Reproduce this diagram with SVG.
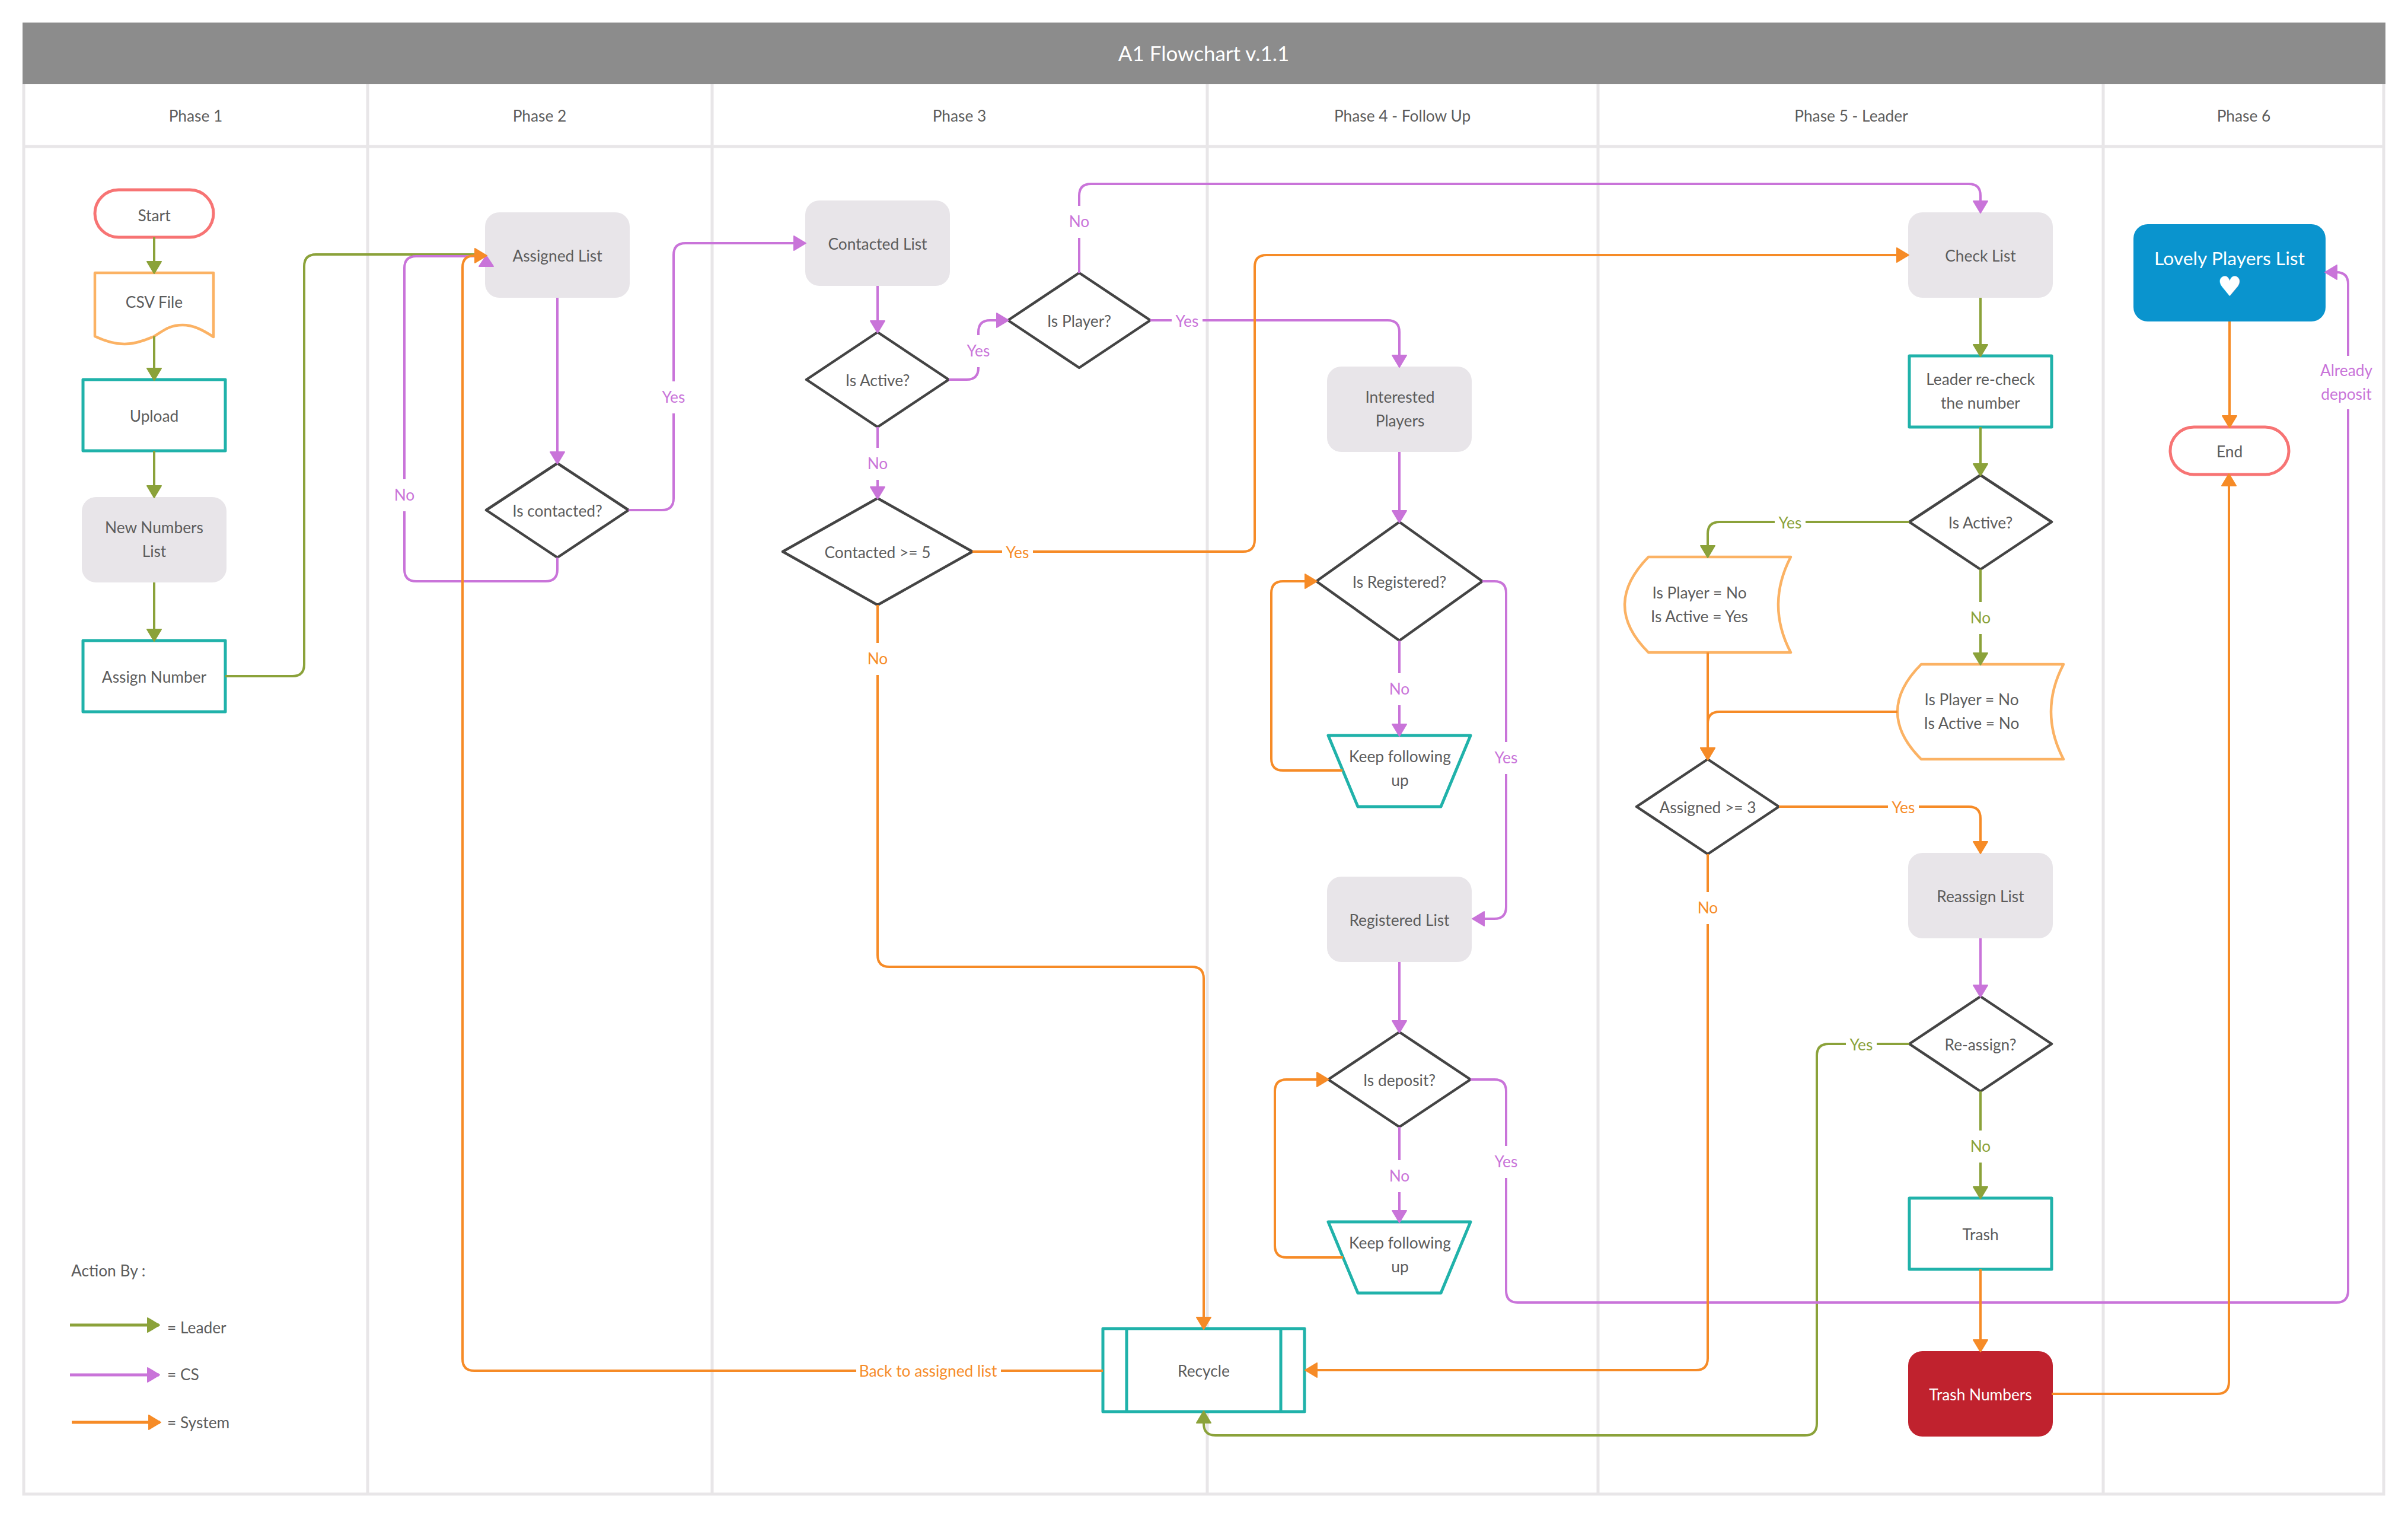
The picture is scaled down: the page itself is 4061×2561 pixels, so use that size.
<svg xmlns="http://www.w3.org/2000/svg" width="4061" height="2561" viewBox="0 0 4061 2561">
<style>
text{font-family:Lato,"Noto Sans","Liberation Sans",sans-serif;font-size:26.3px;fill:#5c5c5c;text-anchor:middle;transform:translateY(-1px)}
.frame{fill:none;stroke:#e8e6e8;stroke-width:5}
.c{fill:none;stroke-width:4;stroke-linejoin:round}
.g{stroke:#8ba23a}.p{stroke:#c974d9}.o{stroke:#f68b27}
.bg{fill:#fff}
.list{fill:#e8e5e9}
.proc{fill:#fff;stroke:#20b2aa;stroke-width:5;stroke-linejoin:round}
.dec{fill:#fff;stroke:#444;stroke-width:4.5;stroke-linejoin:round}
.doc{fill:#fff;stroke:#fbb264;stroke-width:4.5;stroke-linejoin:round}
.term{fill:#fff;stroke:#f77474;stroke-width:5}
text.w{fill:#fff}
.tp{fill:#c974d9}.to{fill:#f68b27}.tg{fill:#8ba23a}
text.tp{fill:#c974d9}text.to{fill:#f68b27}text.tg{fill:#8ba23a}
text.s{text-anchor:start}
.ms{stroke-width:2;stroke-linejoin:round}
.nm{marker-end:none}
</style>
<defs>
<marker id="ag" markerUnits="userSpaceOnUse" markerWidth="30" markerHeight="32" viewBox="0 0 30 32" refX="25" refY="16" orient="auto"><path d="M6 4L26 16L6 28Z" fill="#8ba23a" stroke="#8ba23a" class="ms"/></marker>
<marker id="ap" markerUnits="userSpaceOnUse" markerWidth="30" markerHeight="32" viewBox="0 0 30 32" refX="25" refY="16" orient="auto"><path d="M6 4L26 16L6 28Z" fill="#c974d9" stroke="#c974d9" class="ms"/></marker>
<marker id="ao" markerUnits="userSpaceOnUse" markerWidth="30" markerHeight="32" viewBox="0 0 30 32" refX="25" refY="16" orient="auto"><path d="M6 4L26 16L6 28Z" fill="#f68b27" stroke="#f68b27" class="ms"/></marker>
</defs>
<rect width="4061" height="2561" fill="#fff"/>
<g id="frame">
<path class="frame" d="M40 141V2519H4020V141M40 247H4020M620 141V2519M1201 141V2519M2036 141V2519M2695 141V2519M3547 141V2519"/>
<rect x="38" y="38" width="3985" height="104" fill="#8c8c8c"/>
<text x="2030" y="104" class="w" style="font-size:35px">A1 Flowchart v.1.1</text>
<text x="330" y="206">Phase 1</text>
<text x="910" y="206">Phase 2</text>
<text x="1618" y="206">Phase 3</text>
<text x="2365" y="206">Phase 4 - Follow Up</text>
<text x="3122" y="206">Phase 5 - Leader</text>
<text x="3784" y="206">Phase 6</text>
</g>
<g id="n-start"><rect class="term" x="160" y="320" width="200" height="80" rx="40"/><text x="260" y="374">Start</text></g>
<g id="n-csv"><path class="doc" d="M160 460H360V568C340 555 325 548 308 548C285 548 275 558 260 567C240 576 225 580 210 580C192 580 175 574 160 567Z"/><text x="260" y="520">CSV File</text></g>
<g id="n-upload"><rect class="proc" x="140" y="640" width="240" height="120"/><text x="260" y="712">Upload</text></g>
<g id="n-new"><rect class="list" x="138" y="838" width="244" height="144" rx="24"/><text x="260" y="900">New Numbers</text><text x="260" y="940">List</text></g>
<g id="n-assign"><rect class="proc" x="140" y="1080" width="240" height="120"/><text x="260" y="1152">Assign Number</text></g>
<g id="n-assigned"><rect class="list" x="818" y="358" width="244" height="144" rx="24"/><text x="940" y="442">Assigned List</text></g>
<g id="n-contacted"><path class="dec" d="M940 781L1060 860L940 940L820 860Z"/><text x="940" y="872">Is contacted?</text></g>
<g id="n-contactedlist"><rect class="list" x="1358" y="338" width="244" height="144" rx="24"/><text x="1480" y="422">Contacted List</text></g>
<g id="n-active1"><path class="dec" d="M1480 560L1600 640L1480 720L1360 640Z"/><text x="1480" y="652">Is Active?</text></g>
<g id="n-player"><path class="dec" d="M1820 460L1940 540L1820 620L1700 540Z"/><text x="1820" y="552">Is Player?</text></g>
<g id="n-cont5"><path class="dec" d="M1480 840L1640 930L1480 1020L1320 930Z"/><text x="1480" y="942">Contacted &gt;= 5</text></g>
<g id="n-interested"><rect class="list" x="2238" y="618" width="244" height="144" rx="24"/><text x="2361" y="680">Interested</text><text x="2361" y="720">Players</text></g>
<g id="n-registered"><path class="dec" d="M2360 880L2500 980L2360 1080L2220 980Z"/><text x="2360" y="992">Is Registered?</text></g>
<g id="n-keep1"><path class="proc" d="M2240 1240H2480L2430 1360H2290Z"/><text x="2361" y="1286">Keep following</text><text x="2361" y="1326">up</text></g>
<g id="n-reglist"><rect class="list" x="2238" y="1478" width="244" height="144" rx="24"/><text x="2360" y="1562">Registered List</text></g>
<g id="n-deposit"><path class="dec" d="M2360 1740L2480 1820L2360 1900L2240 1820Z"/><text x="2360" y="1832">Is deposit?</text></g>
<g id="n-keep2"><path class="proc" d="M2240 2060H2480L2430 2180H2290Z"/><text x="2361" y="2106">Keep following</text><text x="2361" y="2146">up</text></g>
<g id="n-recycle"><rect class="proc" x="1860" y="2240" width="340" height="140"/><path class="proc" d="M1900 2240V2380M2160 2240V2380"/><text x="2030" y="2322">Recycle</text></g>
<g id="n-check"><rect class="list" x="3218" y="358" width="244" height="144" rx="24"/><text x="3340" y="442">Check List</text></g>
<g id="n-leader"><rect class="proc" x="3220" y="600" width="240" height="120"/><text x="3340" y="650">Leader re-check</text><text x="3340" y="690">the number</text></g>
<g id="n-active2"><path class="dec" d="M3340 801L3460 880L3340 960L3220 880Z"/><text x="3340" y="892">Is Active?</text></g>
<g id="n-doc1"><path class="doc" d="M2780 939H3020Q2978 1020 3020 1100H2780Q2740 1060 2740 1020Q2740 980 2780 939Z"/><text x="2866" y="1010">Is Player = No</text><text x="2866" y="1050">Is Active = Yes</text></g>
<g id="n-doc2"><path class="doc" d="M3240 1120H3480Q3438 1200 3480 1280H3240Q3200 1240 3200 1200Q3200 1160 3240 1120Z"/><text x="3325" y="1190">Is Player = No</text><text x="3325" y="1230">Is Active = No</text></g>
<g id="n-assigned3"><path class="dec" d="M2880 1280L3000 1360L2880 1440L2760 1360Z"/><text x="2880" y="1372">Assigned &gt;= 3</text></g>
<g id="n-reassign"><rect class="list" x="3218" y="1438" width="244" height="144" rx="24"/><text x="3340" y="1522">Reassign List</text></g>
<g id="n-reassignq"><path class="dec" d="M3340 1680L3460 1760L3340 1840L3220 1760Z"/><text x="3340" y="1772">Re-assign?</text></g>
<g id="n-trash"><rect class="proc" x="3220" y="2020" width="240" height="120"/><text x="3340" y="2092">Trash</text></g>
<g id="n-trashnum"><rect x="3218" y="2278" width="244" height="144" rx="24" fill="#c0222e"/><text x="3340" y="2362" class="w">Trash Numbers</text></g>
<g id="n-lovely"><rect x="3598" y="378" width="324" height="164" rx="24" fill="#0a94ce"/><text x="3760" y="448" class="w" style="font-size:31.8px">Lovely Players List</text><text x="3760" y="500" class="w" style="font-size:46px;font-family:'DejaVu Sans',sans-serif">♥</text></g>
<g id="n-end"><rect class="term" x="3660" y="720" width="200" height="80" rx="40"/><text x="3760" y="772">End</text></g>
<g id="connectors">
<g marker-end="url(#ag)" class="c g">
<path d="M260 400V460"/><path d="M260 567V640"/><path d="M260 760V838"/><path d="M260 982V1080"/>
<path class="nm" d="M380 1140H493Q513 1140 513 1120V449Q513 429 533 429H810"/>
<path d="M3340 502V600"/><path d="M3340 720V801"/>
<path d="M3220 880H2900Q2880 880 2880 900V939"/>
<path d="M3340 960V1120"/>
<path d="M3220 1760H3084Q3064 1760 3064 1780V2400Q3064 2420 3044 2420H2050Q2030 2420 2030 2400V2380"/>
<path d="M3340 1840V2020"/>
<path d="M118 2234H268" style="stroke-width:5"/>
</g>
<g marker-end="url(#ap)" class="c p">
<path d="M940 502V781"/>
<path class="nm" d="M940 940V960Q940 980 920 980H702Q682 980 682 960V452Q682 432 702 432H810"/>
<path d="M1060 860H1116Q1136 860 1136 840V430Q1136 410 1156 410H1358"/>
<path d="M1480 482V560"/><path d="M1480 720V840"/>
<path d="M1600 640H1630Q1650 640 1650 620V560Q1650 540 1670 540H1700"/>
<path d="M1820 460V330Q1820 310 1840 310H3320Q3340 310 3340 330V358"/>
<path d="M1940 540H2340Q2360 540 2360 560V618"/>
<path d="M2360 762V880"/><path d="M2360 1080V1240"/>
<path d="M2500 980H2520Q2540 980 2540 1000V1529Q2540 1549 2520 1549H2484"/>
<path d="M2360 1622V1740"/><path d="M2360 1900V2060"/>
<path d="M2480 1820H2520Q2540 1820 2540 1840V2176Q2540 2196 2560 2196H3940Q3960 2196 3960 2176V479Q3960 459 3940 459H3922"/>
<path d="M3340 1582V1680"/>
<path d="M118 2318H268" style="stroke-width:5"/>
</g>
<path class="tp" d="M820 431L808 449H832Z" stroke="#c974d9" stroke-width="2" stroke-linejoin="round"/>
<g marker-end="url(#ao)" class="c o">
<path d="M1860 2311H800Q780 2311 780 2291V451Q780 431 800 431H820"/>
<path d="M2264 1299H2164Q2144 1299 2144 1279V1000Q2144 980 2164 980H2220"/>
<path d="M2265 2120H2170Q2150 2120 2150 2100V1840Q2150 1820 2170 1820H2240"/>
<path d="M1480 1020V1610Q1480 1630 1500 1630H2010Q2030 1630 2030 1650V2240"/>
<path d="M1640 930H2096Q2116 930 2116 910V450Q2116 430 2136 430H3218"/>
<path d="M2880 1100V1280"/>
<path d="M3200 1200H2900Q2880 1200 2880 1220V1280"/>
<path d="M3000 1360H3320Q3340 1360 3340 1380V1438"/>
<path d="M2880 1440V2290Q2880 2310 2860 2310H2202"/>
<path d="M3340 2140V2278"/>
<path d="M3460 2350H3739Q3759 2350 3759 2330V800"/>
<path d="M3760 542V720"/>
<path d="M121 2398H270" style="stroke-width:5"/>
</g>
<g id="labels">
<rect class="bg" x="660" y="808" width="44" height="54"/><text x="682" y="845" class="tp">No</text>
<rect class="bg" x="1110" y="643" width="52" height="54"/><text x="1136" y="680" class="tp">Yes</text>
<rect class="bg" x="1624" y="565" width="52" height="54"/><text x="1650" y="602" class="tp">Yes</text>
<rect class="bg" x="1458" y="755" width="44" height="54"/><text x="1480" y="792" class="tp">No</text>
<rect class="bg" x="1798" y="347" width="44" height="54"/><text x="1820" y="384" class="tp">No</text>
<rect class="bg" x="1976" y="515" width="52" height="54"/><text x="2002" y="552" class="tp">Yes</text>
<rect class="bg" x="2338" y="1135" width="44" height="54"/><text x="2360" y="1172" class="tp">No</text>
<rect class="bg" x="2514" y="1251" width="52" height="54"/><text x="2540" y="1288" class="tp">Yes</text>
<rect class="bg" x="2338" y="1956" width="44" height="54"/><text x="2360" y="1993" class="tp">No</text>
<rect class="bg" x="2514" y="1932" width="52" height="54"/><text x="2540" y="1969" class="tp">Yes</text>
<rect class="bg" x="3900" y="600" width="110" height="90"/><text x="3957" y="635" class="tp">Already</text><text x="3957" y="675" class="tp">deposit</text>
<rect class="bg" x="1690" y="905" width="52" height="54"/><text x="1716" y="942" class="to">Yes</text>
<rect class="bg" x="1458" y="1084" width="44" height="54"/><text x="1480" y="1121" class="to">No</text>
<rect class="bg" x="1444" y="2285" width="244" height="54"/><text x="1565" y="2322" class="to">Back to assigned list</text>
<rect class="bg" x="3184" y="1335" width="52" height="54"/><text x="3210" y="1372" class="to">Yes</text>
<rect class="bg" x="2858" y="1504" width="44" height="54"/><text x="2880" y="1541" class="to">No</text>
<rect class="bg" x="2993" y="855" width="52" height="54"/><text x="3019" y="892" class="tg">Yes</text>
<rect class="bg" x="3318" y="1015" width="44" height="54"/><text x="3340" y="1052" class="tg">No</text>
<rect class="bg" x="3113" y="1735" width="52" height="54"/><text x="3139" y="1772" class="tg">Yes</text>
<rect class="bg" x="3318" y="1906" width="44" height="54"/><text x="3340" y="1943" class="tg">No</text>
</g>
</g>
<g id="legend">
<text x="120" y="2153" class="s">Action By :</text>
<text x="282" y="2249" class="s">= Leader</text>
<text x="282" y="2328" class="s">= CS</text>
<text x="282" y="2409" class="s">= System</text>
</g>
</svg>
